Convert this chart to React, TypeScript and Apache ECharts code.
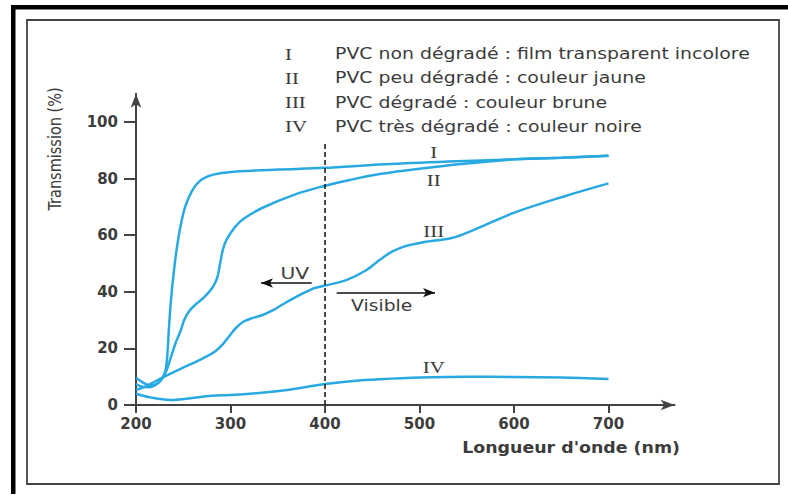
import React, { useEffect, useRef } from 'react';
import * as echarts from 'echarts';

// ---- data ----
const xTicks = [200, 300, 400, 500, 600, 700];
const yTicks = [0, 20, 40, 60, 80, 100];

const nmI = [200, 207, 214, 221, 227, 231, 233, 235, 237, 240, 243, 247, 252, 259, 267, 276, 289, 310, 350, 400, 458, 530, 600, 650, 700];
const tI = [9.6, 8, 7, 7.3, 9, 12, 17, 28, 37, 47, 55, 63, 70, 75.5, 79, 80.8, 81.9, 82.6, 83.2, 83.8, 85, 86, 86.8, 87.4, 88.1];

const nmII = [200, 207, 214, 221, 227, 232, 237, 242, 247, 251, 256, 263, 272, 281, 286, 289, 292, 296, 305, 314, 334, 370, 398, 426, 458, 500, 550, 600, 650, 700];
const tII = [7.3, 6.5, 6.3, 7.2, 9, 12, 17, 22, 26, 30, 33, 35.5, 38, 41.5, 45, 50, 55, 58.5, 63, 65.8, 69.7, 74.6, 77.3, 79.5, 81.6, 83.5, 85.3, 86.8, 87.4, 88.1];

const nmIII = [200, 210, 220, 236, 254, 271, 284, 292, 299, 306, 314, 323, 334, 345, 355, 370, 388, 400, 423, 444, 458, 470, 482, 504, 534, 557, 599, 652, 700];
const tIII = [5.3, 6.5, 8.3, 11, 13.8, 16.5, 19, 21.5, 24.5, 27.3, 29.5, 30.7, 31.8, 33.5, 35.5, 38.3, 41.2, 42.2, 44.2, 47.7, 51.3, 54, 55.8, 57.5, 59, 61.8, 67.8, 73.6, 78.3];

const nmIV = [200, 215, 236, 255, 280, 300, 330, 360, 400, 430, 458, 500, 550, 600, 650, 700];
const tIV = [4, 2.7, 1.8, 2.3, 3.3, 3.5, 4.2, 5.3, 7.4, 8.5, 9.1, 9.7, 10, 9.9, 9.7, 9.2];

const curveNames = ['I', 'II', 'III', 'IV'];
const legendTexts = [
  'PVC non dégradé : film transparent incolore',
  'PVC peu dégradé : couleur jaune',
  'PVC dégradé : couleur brune',
  'PVC très dégradé : couleur noire',
];
// label anchors in data space [nm, %]
const curveLabelAnchors: number[][] = [[515, 89.2], [515, 79.5], [515, 61.2], [515, 13.4]];
// UV / visible boundary
const boundaryNm = 400;
const boundaryTop = 92.5;
const uvArrow = [[385.9, 43.1], [332.3, 43.1]];
const visArrow = [[412.4, 39.7], [516.4, 39.7]];
const uvLabelAnchor = [368, 46.5];
const visLabelAnchor = [460, 35.2];

const zip = (xs: number[], ys: number[]) => xs.map((x, i) => [x, ys[i]]);

const CURVE = '#29a9e1';
const TXT = '#3c3c3c';
const SANS = '"DejaVu Sans", sans-serif';
const SERIF = '"Liberation Serif", serif';

export default function App() {
  const ref = useRef<HTMLDivElement>(null);
  useEffect(() => {
    const el = ref.current!;
    const chart = echarts.init(el, null, { renderer: 'svg' });
    const line = (name: string, xs: number[], ys: number[], extra: any = {}) => ({
      type: 'line',
      name,
      data: zip(xs, ys),
      showSymbol: false,
      smooth: 0.35,
      lineStyle: { color: CURVE, width: 2.5 },
      itemStyle: { color: CURVE },
      silent: true,
      ...extra,
    });
    const option: any = {
      animation: false,
      backgroundColor: '#fff',
      grid: { left: 136, right: 113.35, top: 93.7, bottom: 90, containLabel: false },
      xAxis: {
        type: 'value',
        min: 200,
        max: 770,
        interval: 100,
        splitLine: { show: false },
        axisLine: { lineStyle: { color: '#444', width: 2 }, symbol: ['none', 'arrow'], symbolSize: [8, 14] },
        axisTick: { length: 8, lineStyle: { color: '#444', width: 2 }, customValues: xTicks },
        axisLabel: { customValues: xTicks, margin: 11, color: TXT, fontFamily: SANS, fontWeight: 'bold', fontSize: 15 },
      },
      yAxis: {
        type: 'value',
        min: 0,
        max: 110,
        interval: 10,
        splitLine: { show: false },
        axisLine: { onZero: false, lineStyle: { color: '#444', width: 2 }, symbol: ['none', 'arrow'], symbolSize: [8, 14] },
        axisTick: { length: 12, lineStyle: { color: '#444', width: 2 }, customValues: yTicks },
        axisLabel: { customValues: yTicks, margin: 18, color: TXT, fontFamily: SANS, fontWeight: 'bold', fontSize: 15 },
      },
      series: [
        line(curveNames[0], nmI, tI, {
          markLine: {
            silent: true,
            symbol: 'none',
            label: { show: false },
            lineStyle: { color: '#111', width: 1.5, type: [5, 3] },
            data: [[{ coord: [boundaryNm, 0] }, { coord: [boundaryNm, boundaryTop] }]],
          },
        }),
        line(curveNames[1], nmII, tII),
        line(curveNames[2], nmIII, tIII, {
          markLine: {
            silent: true,
            symbol: ['none', 'arrow'],
            symbolSize: [7, 12],
            label: { show: false },
            lineStyle: { color: '#111', width: 1.5, type: 'solid' },
            data: [
              [{ coord: uvArrow[0] }, { coord: uvArrow[1] }],
              [{ coord: visArrow[0] }, { coord: visArrow[1] }],
            ],
          },
        }),
        line(curveNames[3], nmIV, tIV),
      ],
    };
    chart.setOption(option);

    const px = (p: number[]) => chart.convertToPixel({ gridIndex: 0 }, p) as number[];
    const graphics: any[] = [
      { type: 'rect', z: -10, shape: { x: 11, y: 5, width: 777, height: 4.5 }, style: { fill: '#000' } },
      { type: 'rect', z: -10, shape: { x: 11, y: 5, width: 4.5, height: 489 }, style: { fill: '#000' } },
      { type: 'rect', z: -10, shape: { x: 27, y: 20, width: 752, height: 464 }, style: { fill: 'none', stroke: '#444', lineWidth: 1.8 } },
      {
        type: 'text', x: 55, y: 149, rotation: Math.PI / 2, scaleY: 1.2,
        style: { text: 'Transmission (%)', fill: TXT, font: `14.5px ${SANS}`, align: 'center', verticalAlign: 'middle' },
      },
      {
        type: 'text', x: 680, y: 448, scaleX: 1.16,
        style: { text: "Longueur d'onde (nm)", fill: TXT, font: `bold 15px ${SANS}`, align: 'right', verticalAlign: 'middle' },
      },
    ];
    legendTexts.forEach((t, i) => {
      const y = 54 + 24.2 * i;
      graphics.push({
        type: 'text', x: 285, y, scaleX: 1.3,
        style: { text: curveNames[i], fill: TXT, font: `16px ${SERIF}`, align: 'left', verticalAlign: 'middle' },
      });
      graphics.push({
        type: 'text', x: 335, y, scaleX: 1.26,
        style: { text: t, fill: TXT, font: `15px ${SANS}`, align: 'left', verticalAlign: 'middle' },
      });
    });
    curveLabelAnchors.forEach((a, i) => {
      const p = px(a);
      graphics.push({
        type: 'text', x: p[0], y: p[1], scaleX: 1.3,
        style: { text: curveNames[i], fill: TXT, font: `16px ${SERIF}`, align: 'center', verticalAlign: 'middle' },
      });
    });
    const uvp = px(uvLabelAnchor);
    graphics.push({
      type: 'text', x: uvp[0], y: uvp[1], scaleX: 1.35,
      style: { text: 'UV', fill: TXT, font: `15px ${SANS}`, align: 'center', verticalAlign: 'middle' },
    });
    const vp = px(visLabelAnchor);
    graphics.push({
      type: 'text', x: vp[0], y: vp[1], scaleX: 1.25,
      style: { text: 'Visible', fill: TXT, font: `15px ${SANS}`, align: 'center', verticalAlign: 'middle' },
    });
    chart.setOption({ graphic: graphics });
    return () => chart.dispose();
  }, []);
  return <div ref={ref} style={{ position: 'fixed', left: 0, top: 0, width: 788, height: 495, background: '#fff' }} />;
}
